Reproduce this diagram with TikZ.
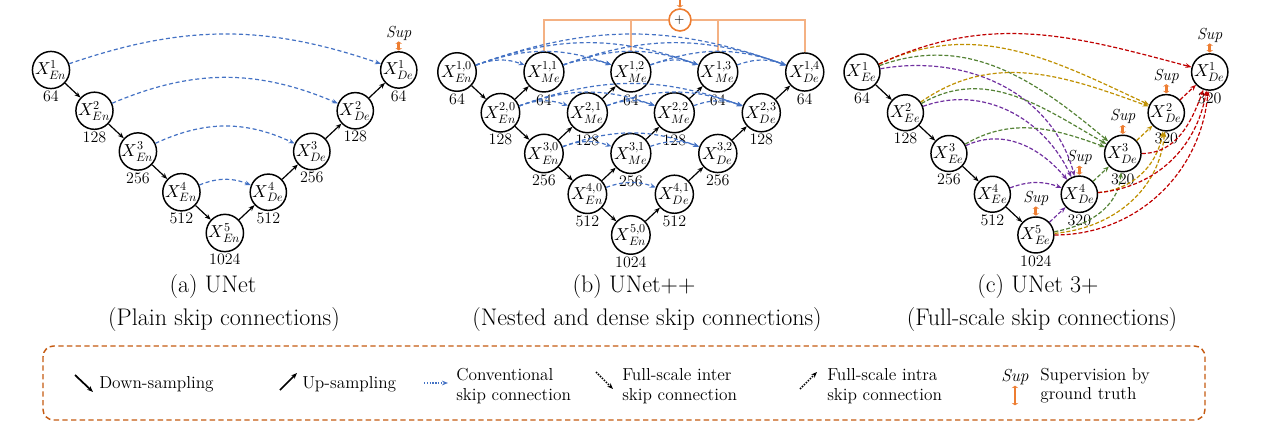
\documentclass[tikz,border=0pt]{standalone}
\usepackage{fontspec}
\usepackage{unicode-math}
\usetikzlibrary{positioning,arrows.meta}

\definecolor{skipblue}{HTML}{4472C4}
\definecolor{supor}{HTML}{ED7D31}
\definecolor{sumor}{HTML}{F4B183}
\definecolor{boxor}{HTML}{C55A11}
\definecolor{pur}{HTML}{7030A0}
\definecolor{grn}{HTML}{548235}
\definecolor{gld}{HTML}{BF9000}
\definecolor{rd}{HTML}{C00000}

\tikzset{
	feat/.style={circle, draw, line width=1.1pt, minimum size=27pt, inner sep=0pt, font=\fontsize{13}{14}\selectfont},
	num/.style={inner sep=1pt, font=\fontsize{12}{13}\selectfont},
	samp/.style={->, line width=0.9pt},
	skip/.style={->, draw=skipblue, line width=0.9pt, dash pattern=on 3pt off 2pt},
	fs/.style={->, line width=0.9pt, dash pattern=on 3pt off 1.5pt},
	supt/.style={inner sep=0pt, font=\fontsize{12}{13}\selectfont\itshape},
	suparr/.style={{Stealth[length=1.8pt,width=5pt]}-{Stealth[length=1.8pt,width=5pt]}, draw=supor, line width=2.2pt, shorten <=0.5pt, shorten >=0.5pt},
	sumline/.style={draw=sumor, line width=1.2pt},
	plusc/.style={circle, draw=supor, line width=1.2pt, fill=white, minimum size=16.5pt, inner sep=0pt},
	captxt/.style={font=\fontsize{18}{20}\selectfont},
	lgd/.style={anchor=west, align=left, inner sep=0pt, font=\fontsize{13}{14.5}\selectfont},
	legbox/.style={draw=boxor, line width=1.1pt, dash pattern=on 4pt off 2.5pt, rounded corners=8pt},
}

\begin{document}
\begin{tikzpicture}[x=0.75pt, y=-0.75pt, node distance=30.56pt and 32.6pt, on grid, >={Stealth[length=4.5pt,width=3.5pt]}]
	\useasboundingbox (0,0) rectangle (1261,446);

	% (a) UNet
	\node[feat, label={[num]below:64}] (En1) at (51,70) {$X_{En}^{1}$};
	\node[feat, label={[num]below:128}, below right=of En1] (En2) {$X_{En}^{2}$};
	\node[feat, label={[num]below:256}, below right=of En2] (En3) {$X_{En}^{3}$};
	\node[feat, label={[num]below:512}, below right=of En3] (En4) {$X_{En}^{4}$};
	\node[feat, label={[num]below:1024}, below right=of En4] (En5) {$X_{En}^{5}$};
	\node[feat, label={[num]below:512}, above right=of En5] (De4) {$X_{De}^{4}$};
	\node[feat, label={[num]below:256}, above right=of De4] (De3) {$X_{De}^{3}$};
	\node[feat, label={[num]below:128}, above right=of De3] (De2) {$X_{De}^{2}$};
	\node[feat, label={[num]below:64}, above right=of De2] (De1) {$X_{De}^{1}$};
	\node[supt, above=27.5pt of De1] (supa) {Sup};

	\draw[samp] (En1) -- (En2);
	\draw[samp] (En2) -- (En3);
	\draw[samp] (En3) -- (En4);
	\draw[samp] (En4) -- (En5);
	\draw[samp] (En5) -- (De4);
	\draw[samp] (De4) -- (De3);
	\draw[samp] (De3) -- (De2);
	\draw[samp] (De2) -- (De1);
	\draw[skip] (En1) to[bend left=19] (De1);
	\draw[skip] (En2) to[bend left=23] (De2);
	\draw[skip] (En3) to[bend left=25] (De3);
	\draw[skip] (En4) to[bend left=22] (De4);
	\draw[suparr] (De1) -- (supa);

	\node[captxt] (capa) at (213,287) {(a) UNet};
	\node[captxt] (capa2) at (224,320) {(Plain skip connections)};

	% (b) UNet++
	\node[feat, label={[num]below:64}] (N10) at (457,72) {$X_{En}^{1,0}$};
	\node[feat, label={[num]below:128}, below right=of N10] (N20) {$X_{En}^{2,0}$};
	\node[feat, label={[num]below:256}, below right=of N20] (N30) {$X_{En}^{3,0}$};
	\node[feat, label={[num]below:512}, below right=of N30] (N40) {$X_{En}^{4,0}$};
	\node[feat, label={[num]below:1024}, below right=of N40] (N50) {$X_{En}^{5,0}$};
	\node[feat, label={[num]below:64}, above right=of N20] (N11) {$X_{Me}^{1,1}$};
	\node[feat, label={[num]below:128}, above right=of N30] (N21) {$X_{Me}^{2,1}$};
	\node[feat, label={[num]below:256}, above right=of N40] (N31) {$X_{Me}^{3,1}$};
	\node[feat, label={[num]below:512}, above right=of N50] (N41) {$X_{De}^{4,1}$};
	\node[feat, label={[num]below:64}, above right=of N21] (N12) {$X_{Me}^{1,2}$};
	\node[feat, label={[num]below:128}, above right=of N31] (N22) {$X_{Me}^{2,2}$};
	\node[feat, label={[num]below:256}, above right=of N41] (N32) {$X_{De}^{3,2}$};
	\node[feat, label={[num]below:64}, above right=of N22] (N13) {$X_{Me}^{1,3}$};
	\node[feat, label={[num]below:128}, above right=of N32] (N23) {$X_{De}^{2,3}$};
	\node[feat, label={[num]below:64}, above right=of N23] (N14) {$X_{De}^{1,4}$};
	\node[plusc] (plus) at (680,20) {$+$};
	\coordinate (plustop) at (680,-4);

	\draw[sumline] (N11) |- (plus);
	\draw[sumline] (N14) |- (plus);
	\draw[sumline] (N12.north) -- (N12.north |- plus.center);
	\draw[sumline] (N13.north) -- (N13.north |- plus.center);
	\draw[suparr] (plus) -- (plustop);

	\draw[samp] (N10) -- (N20);
	\draw[samp] (N20) -- (N30);
	\draw[samp] (N30) -- (N40);
	\draw[samp] (N40) -- (N50);
	\draw[samp] (N20) -- (N11);
	\draw[samp] (N30) -- (N21);
	\draw[samp] (N21) -- (N12);
	\draw[samp] (N40) -- (N31);
	\draw[samp] (N31) -- (N22);
	\draw[samp] (N22) -- (N13);
	\draw[samp] (N50) -- (N41);
	\draw[samp] (N41) -- (N32);
	\draw[samp] (N32) -- (N23);
	\draw[samp] (N23) -- (N14);

	\draw[skip] (N10) to[bend left=20] (N11);
	\draw[skip] (N10) to[bend left=20] (N12);
	\draw[skip] (N10) to[bend left=20] (N13);
	\draw[skip] (N10) to[bend left=20] (N14);
	\draw[skip] (N11) to[bend left=20] (N12);
	\draw[skip] (N11) to[bend left=20] (N13);
	\draw[skip] (N11) to[bend left=20] (N14);
	\draw[skip] (N12) to[bend left=20] (N13);
	\draw[skip] (N12) to[bend left=20] (N14);
	\draw[skip] (N13) to[bend left=20] (N14);
	\draw[skip] (N20) to[bend left=20] (N21);
	\draw[skip] (N20) to[bend left=20] (N22);
	\draw[skip] (N20) to[bend left=20] (N23);
	\draw[skip] (N21) to[bend left=20] (N22);
	\draw[skip] (N21) to[bend left=20] (N23);
	\draw[skip] (N22) to[bend left=20] (N23);
	\draw[skip] (N30) to[bend left=20] (N31);
	\draw[skip] (N30) to[bend left=20] (N32);
	\draw[skip] (N31) to[bend left=20] (N32);
	\draw[skip] (N40) to[bend left=20] (N41);

	\node[captxt] (capb) at (634,287) {(b) UNet++};
	\node[captxt] (capb2) at (647,320) {(Nested and dense skip connections)};

	% (c) UNet 3+
	\node[feat, label={[num]below:64}] (Ee1) at (862,72) {$X_{Ee}^{1}$};
	\node[feat, label={[num]below:128}, below right=of Ee1] (Ee2) {$X_{Ee}^{2}$};
	\node[feat, label={[num]below:256}, below right=of Ee2] (Ee3) {$X_{Ee}^{3}$};
	\node[feat, label={[num]below:512}, below right=of Ee3] (Ee4) {$X_{Ee}^{4}$};
	\node[feat, label={[num]below:1024}, below right=of Ee4] (Ee5) {$X_{Ee}^{5}$};
	\node[feat, label={[num]below:320}, above right=of Ee5] (Dc4) {$X_{De}^{4}$};
	\node[feat, label={[num]below:320}, above right=of Dc4] (Dc3) {$X_{De}^{3}$};
	\node[feat, label={[num]below:320}, above right=of Dc3] (Dc2) {$X_{De}^{2}$};
	\node[feat, label={[num]below:320}, above right=of Dc2] (Dc1) {$X_{De}^{1}$};
	\node[supt, above=27.5pt of Ee5] (supc5) {Sup};
	\node[supt, above=27.5pt of Dc4] (supc4) {Sup};
	\node[supt, above=27.5pt of Dc3] (supc3) {Sup};
	\node[supt, above=27.5pt of Dc2] (supc2) {Sup};
	\node[supt, above=27.5pt of Dc1] (supc1) {Sup};

	\draw[samp] (Ee1) -- (Ee2);
	\draw[samp] (Ee2) -- (Ee3);
	\draw[samp] (Ee3) -- (Ee4);
	\draw[samp] (Ee4) -- (Ee5);

	\draw[fs, pur] (Ee1) to[out=10, in=105] (Dc4);
	\draw[fs, pur] (Ee2) to[out=20, in=115] (Dc4);
	\draw[fs, pur] (Ee3) to[out=25, in=130] (Dc4);
	\draw[fs, pur] (Ee4) to[bend left=20] (Dc4);
	\draw[fs, pur] (Ee5) -- (Dc4);
	\draw[fs, grn] (Ee1) to[out=20, in=140] (Dc3);
	\draw[fs, grn] (Ee2) to[out=30, in=150] (Dc3);
	\draw[fs, grn] (Ee3) to[out=30, in=160] (Dc3);
	\draw[fs, grn] (Dc4) -- (Dc3);
	\draw[fs, grn] (Ee5) to[out=10, in=-95] (Dc3);
	\draw[fs, gld] (Ee1) to[out=25, in=155] (Dc2);
	\draw[fs, gld] (Ee2) to[out=35, in=160] (Dc2);
	\draw[fs, gld] (Dc3) -- (Dc2);
	\draw[fs, gld] (Dc4) to[out=5, in=-100] (Dc2);
	\draw[fs, gld] (Ee5) to[out=5, in=-95] (Dc2);
	\draw[fs, rd] (Ee1) to[out=25, in=165] (Dc1);
	\draw[fs, rd] (Dc2) -- (Dc1);
	\draw[fs, rd] (Dc3) to[out=0, in=-110] (Dc1);
	\draw[fs, rd] (Dc4) to[out=5, in=-100] (Dc1);
	\draw[fs, rd] (Ee5) to[out=0, in=-95] (Dc1);

	\draw[suparr] (Ee5) -- (supc5);
	\draw[suparr] (Dc4) -- (supc4);
	\draw[suparr] (Dc3) -- (supc3);
	\draw[suparr] (Dc2) -- (supc2);
	\draw[suparr] (Dc1) -- (supc1);

	\node[captxt] (capc) at (1038,287) {(c) UNet 3+};
	\node[captxt] (capc2) at (1042,320) {(Full-scale skip connections)};

	% legend
	\draw[legbox] (43,346) rectangle (1205,420);
	\coordinate (dsa) at (75,375);
	\coordinate (dsb) at (93,392);
	\coordinate (usa) at (280,390);
	\coordinate (usb) at (297,373);
	\coordinate (csa) at (424,383);
	\coordinate (csb) at (448,383);
	\coordinate (ira) at (596,372);
	\coordinate (irb) at (613,389);
	\coordinate (iaa) at (800,389);
	\coordinate (iab) at (817,372);
	\draw[->, line width=1.3pt] (dsa) -- (dsb);
	\draw[->, line width=1.3pt] (usa) -- (usb);
	\draw[->, draw=skipblue, line width=1.1pt, densely dotted] (csa) -- (csb);
	\draw[->, line width=1.1pt, densely dotted] (ira) -- (irb);
	\draw[->, line width=1.1pt, densely dotted] (iaa) -- (iab);
	\node[lgd] (ldown) at (99,384) {Down-sampling};
	\node[lgd] (lup) at (302,384) {Up-sampling};
	\node[lgd] (lconv) at (456,386) {Conventional\\skip connection};
	\node[lgd] (linter) at (622,386) {Full-scale inter\\skip connection};
	\node[lgd] (lintra) at (827,386) {Full-scale intra\\skip connection};
	\node[supt, font=\fontsize{13}{14}\selectfont\itshape] (lsup) at (1015,377) {Sup};
	\coordinate (lsupb) at (1015,406);
	\draw[suparr] (lsup) -- (lsupb);
	\node[lgd] (lsupt) at (1040,386) {Supervision by\\ground truth};
\end{tikzpicture}
\end{document}
